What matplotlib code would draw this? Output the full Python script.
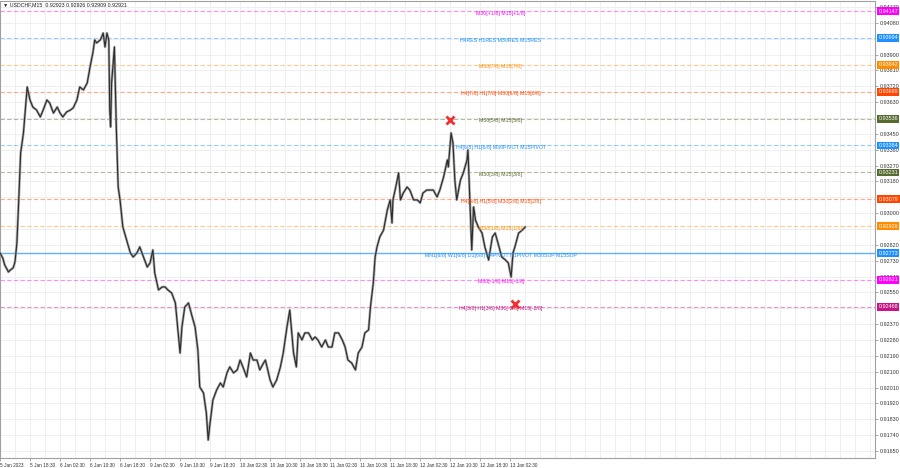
import matplotlib
matplotlib.use("Agg")
import matplotlib.pyplot as plt
import matplotlib.transforms as mtransforms

plt.rcParams['font.family'] = ['Liberation Sans', 'DejaVu Sans']

# USDCHF M15 closes, sampled by eye (bar index, price)
bars = [0, 3, 5, 9, 11, 14, 16, 18, 20, 22, 25, 27, 29, 32, 35, 39, 43, 46, 50, 53,
        57, 61, 64, 67, 71, 75, 78, 82, 85, 89, 93, 96, 99, 101, 103, 107, 110, 112, 114, 116,
        117, 118, 119, 122, 124, 126, 128, 131, 135, 139, 142, 146, 149, 153, 157, 160, 163, 165, 169, 173,
        176, 179, 183, 187, 190, 192, 194, 197, 201, 205, 208, 211, 213, 217, 220, 222, 224, 227, 231, 235,
        238, 242, 245, 249, 253, 256, 259, 263, 267, 270, 274, 277, 281, 283, 288, 291, 295, 299, 302, 306,
        309, 313, 316, 318, 322, 325, 329, 333, 336, 339, 343, 347, 350, 354, 357, 361, 365, 368, 371, 375,
        379, 382, 386, 389, 393, 395, 398, 400, 402, 405, 409, 413, 416, 418, 419, 422, 425, 427, 430, 434,
        437, 441, 445, 448, 451, 455, 459, 462, 466, 469, 473, 477, 478, 481, 483, 485, 487, 491, 494, 498,
        499, 501, 503, 505, 507, 510, 514, 517, 521, 525, 528, 531, 535, 539, 542, 545, 547, 549, 553, 557,
        560]
closes = [0.92774, 0.92745, 0.92706, 0.92666, 0.92677, 0.92689, 0.92723, 0.92830, 0.93075, 0.93341,
          0.93455, 0.93585, 0.93716, 0.93642, 0.93602, 0.93585, 0.93546, 0.93585, 0.93642, 0.93625,
          0.93568, 0.93602, 0.93568, 0.93546, 0.93574, 0.93585, 0.93597, 0.93642, 0.93716, 0.93699,
          0.93739, 0.93829, 0.93909, 0.93983, 0.93966, 0.93983, 0.94022, 0.93943, 0.94022, 0.93983,
          0.93585, 0.93489, 0.93739, 0.93943, 0.93489, 0.93148, 0.93075, 0.92921, 0.92848, 0.92774,
          0.92751, 0.92774, 0.92808, 0.92751, 0.92694, 0.92717, 0.92791, 0.92660, 0.92564, 0.92581,
          0.92581, 0.92564, 0.92547, 0.92490, 0.92320, 0.92206, 0.92354, 0.92467, 0.92490, 0.92410,
          0.92354, 0.92223, 0.92013, 0.91979, 0.91866, 0.91712, 0.91809, 0.91939, 0.91996, 0.92036,
          0.92013, 0.92093, 0.92127, 0.92093, 0.92110, 0.92166, 0.92127, 0.92070, 0.92206, 0.92166,
          0.92166, 0.92110, 0.92149, 0.92166, 0.92053, 0.92013, 0.92053, 0.92127, 0.92206, 0.92354,
          0.92450, 0.92206, 0.92127, 0.92320, 0.92280, 0.92320, 0.92320, 0.92280, 0.92297, 0.92280,
          0.92240, 0.92280, 0.92240, 0.92240, 0.92320, 0.92320, 0.92280, 0.92240, 0.92166, 0.92149,
          0.92110, 0.92206, 0.92240, 0.92320, 0.92337, 0.92467, 0.92603, 0.92751, 0.92808, 0.92865,
          0.92904, 0.93018, 0.93075, 0.92944, 0.93075, 0.93148, 0.93228, 0.93075, 0.93114, 0.93148,
          0.93131, 0.93075, 0.93075, 0.93058, 0.93114, 0.93131, 0.93131, 0.93131, 0.93092, 0.93131,
          0.93205, 0.93302, 0.93262, 0.93455, 0.93398, 0.93188, 0.93075, 0.93188, 0.93228, 0.93302,
          0.93358, 0.93075, 0.92791, 0.93035, 0.92961, 0.92921, 0.92887, 0.92808, 0.92734, 0.92865,
          0.92887, 0.92830, 0.92751, 0.92734, 0.92717, 0.92637, 0.92774, 0.92808, 0.92887, 0.92904,
          0.92921]

# Murrey-math style levels drawn on the chart
level_prices = [0.94147, 0.93994, 0.93842, 0.93689, 0.93536, 0.93384,
                0.93231, 0.93079, 0.92926, 0.92773, 0.92621, 0.92468]
level_names = ["M30[+1/8] M15[+1/8]",
               "H4RES H1RES M30RES M15RES",
               "M30[7/8] M15[7/8]",
               "H4[7/8] H1[7/8] M30[6/8] M15[6/8]",
               "M30[5/8] M15[5/8]",
               "H4[6/8] H1[6/8] M30PIVOT M15PIVOT",
               "M30[3/8] M15[3/8]",
               "H4[5/8] H1[5/8] M30[2/8] M15[2/8]",
               "M30[1/8] M15[1/8]",
               "MN1[6/8] W1[6/8] D1[6/8] H4PIVOT H1PIVOT M30SUP M15SUP",
               "M30[-1/8] M15[-1/8]",
               "H4[3/8] H1[3/8] M30[-2/8] M15[-2/8]"]
level_colors = ["#ff00ff", "#1e90ff", "#ff8c00", "#ff4500", "#556b2f", "#1e90ff",
                "#556b2f", "#ff4500", "#ff8c00", "#1e90ff", "#ff00ff", "#c71585"]

# red crosses (bar, price)
cross_bars = [480, 549]
cross_prices = [0.93530, 0.92484]

tick_prices = [0.91650 + 0.0009 * i for i in range(29)]
time_labels = ["5 Jan 2023", "5 Jan 18:30", "6 Jan 02:30", "6 Jan 10:30", "6 Jan 18:30",
               "9 Jan 02:30", "9 Jan 10:30", "9 Jan 18:30", "10 Jan 02:30", "10 Jan 10:30",
               "10 Jan 18:30", "11 Jan 02:30", "11 Jan 10:30", "11 Jan 18:30", "12 Jan 02:30",
               "12 Jan 10:30", "12 Jan 18:30", "13 Jan 02:30"]
label_x = 534


def main():
    fig = plt.figure(figsize=(9, 4.68), dpi=100)
    ax = fig.add_axes([0.0, 10 / 468, 875 / 900, 457 / 468])
    ax.set_xlim(0, 933)
    ax.set_ylim(0.91610, 0.94204)

    # grid
    for gx in range(16, 933, 16):
        ax.axvline(gx, color="#ececec", lw=0.6, zorder=0)
    for gy in tick_prices:
        ax.axhline(gy, color="#ececec", lw=0.6, zorder=0)

    # levels
    for p, name, c in zip(level_prices, level_names, level_colors):
        if name.startswith("MN1"):
            ax.axhline(p, color=c, lw=1.0, alpha=0.7, zorder=1)
        else:
            ax.axhline(p, color=c, lw=0.8, alpha=0.45, ls=(0, (4, 2)), zorder=1)
        ax.annotate(name, (label_x, p), xytext=(0, -1.5), textcoords="offset points",
                    ha="center", va="center", fontsize=3.8, color=c, zorder=4)

    # price
    ax.plot(bars, closes, color="#a5a5a5", lw=1.8, zorder=2)
    ax.plot(bars, closes, color="#2b2b2b", lw=0.8, zorder=3)

    ax.plot(cross_bars, cross_prices, "x", color="#f03030", ms=6, mew=2, zorder=5)

    # axes styling; tick labels under the colored price boxes are left out
    shown = [t for t in tick_prices if min(abs(t - p) for p in level_prices) > 0.00016]
    ax.yaxis.tick_right()
    ax.set_yticks(shown)
    ax.set_yticklabels(["%.5f" % t for t in shown], fontsize=3.9, color="#333333")
    ax.set_xticks([32 * i for i in range(len(time_labels))])
    ax.set_xticklabels(time_labels, fontsize=3.4, color="#333333", ha="left")
    ax.tick_params(axis="both", length=2, width=0.5, color="#888888", pad=1.5)
    for s in ax.spines.values():
        s.set_color("#a0a0a0")
        s.set_linewidth(0.8)

    # colored price boxes on the right scale
    trans = mtransforms.blended_transform_factory(ax.transAxes, ax.transData)
    for p, c in zip(level_prices, level_colors):
        ax.text(1.004, p, "%.5f" % p, transform=trans, fontsize=3.9, color="white",
                ha="left", va="center", clip_on=False, zorder=6,
                bbox=dict(boxstyle="square,pad=0.25", fc=c, ec="none"))

    ax.text(0.003, 0.997, "\u25bc USDCHF,M15  0.92923 0.92926 0.92909 0.92921",
            transform=ax.transAxes, fontsize=3.8, color="#222222", ha="left", va="top",
            family=["Liberation Sans", "DejaVu Sans"])

    fig.savefig("out.png", dpi=100)


if __name__ == "__main__":
    main()
